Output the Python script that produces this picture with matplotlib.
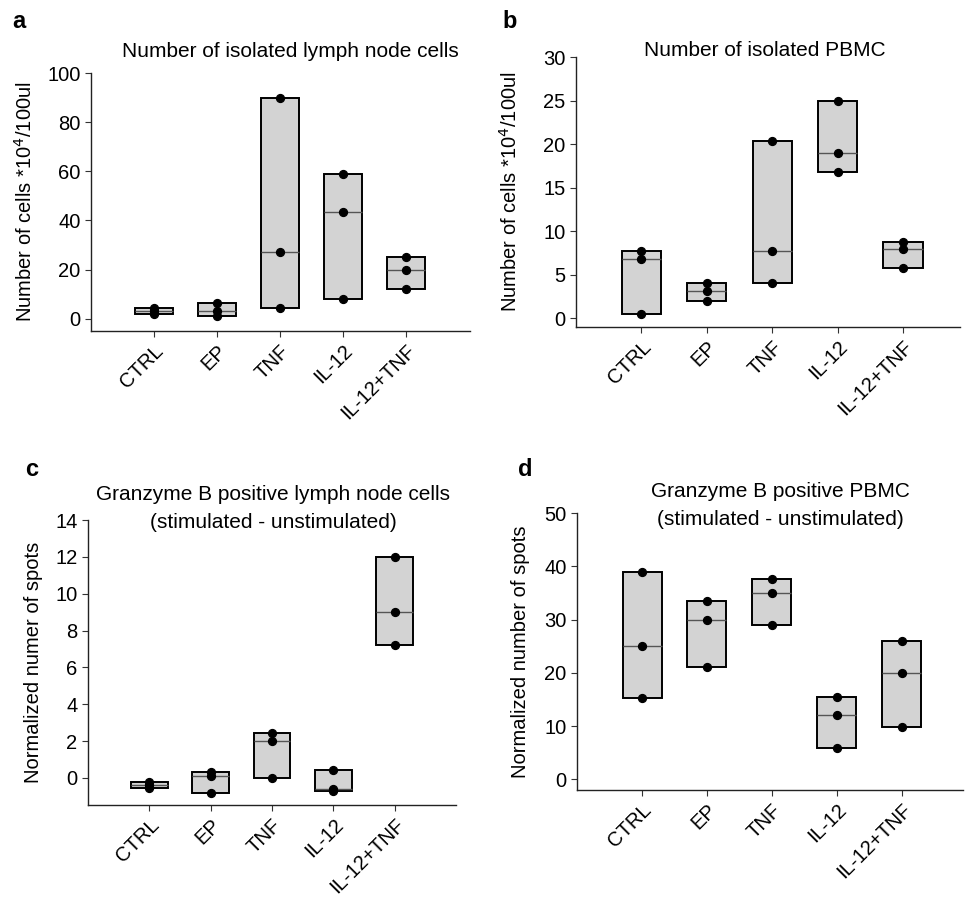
import numpy as np
import matplotlib.pyplot as plt

plt.rcParams['font.family'] = ['Liberation Sans', 'DejaVu Sans']

groups = ["CTRL", "EP", "TNF", "IL-12", "IL-12+TNF"]

# three replicates per group
lymph_cells = [[2.0, 3.0, 4.2], [1.0, 3.2, 6.4], [4.2, 27.0, 90.0],
               [8.0, 43.5, 59.0], [12.0, 20.0, 25.0]]
pbmc_cells = [[0.5, 6.8, 7.7], [2.0, 3.1, 4.1], [4.0, 7.7, 20.3],
              [16.8, 19.0, 25.0], [5.8, 8.0, 8.8]]
lymph_gzb = [[-0.53, -0.4, -0.23], [-0.8, 0.1, 0.35], [0.0, 2.0, 2.42],
             [-0.7, -0.58, 0.42], [7.2, 9.0, 12.0]]
pbmc_gzb = [[15.2, 25.0, 39.0], [21.0, 30.0, 33.5], [29.0, 35.0, 37.7],
            [5.8, 12.0, 15.4], [9.8, 20.0, 26.0]]

panels = [
    dict(data=lymph_cells, letter="a", title="Number of isolated lymph node cells",
         ylabel="Number of cells *10$^4$/100ul", yticks=np.arange(0, 101, 20),
         ylim=(-5, 100), xlim=(0, 6.02),
         pos=[0.0939, 0.6355, 0.3911, 0.2841], tpos=(0.525, 1.085), lx=-0.145,
         letter_xy=(19, 22)),
    dict(data=pbmc_cells, letter="b", title="Number of isolated PBMC",
         ylabel="Number of cells *10$^4$/100ul", yticks=np.arange(0, 31, 5),
         ylim=(-1, 30), xlim=(0, 5.87),
         pos=[0.5944, 0.6399, 0.3963, 0.2973], tpos=(0.492, 1.026), lx=-0.143,
         letter_xy=(510, 22)),
    dict(data=lymph_gzb, letter="c",
         title="Granzyme B positive lymph node cells\n(stimulated - unstimulated)",
         ylabel="Normalized numer of spots", yticks=np.arange(0, 15, 2),
         ylim=(-1.47, 14), xlim=(0, 6.0),
         pos=[0.0908, 0.1134, 0.3798, 0.3139], tpos=(0.503, 1.040), lx=-0.122,
         letter_xy=(32, 470)),
    dict(data=pbmc_gzb, letter="d",
         title="Granzyme B positive PBMC\n(stimulated - unstimulated)",
         ylabel="Normalized number of spots", yticks=np.arange(0, 51, 10),
         ylim=(-2, 50), xlim=(0, 5.94),
         pos=[0.5955, 0.1300, 0.3983, 0.3050], tpos=(0.528, 1.026), lx=-0.122,
         letter_xy=(525, 470)),
]

W, H = 969, 908
fig = plt.figure(figsize=(W / 100, H / 100), dpi=100)

for p in panels:
    ax = fig.add_axes(p["pos"])
    x = np.arange(1, len(groups) + 1)
    vals = [np.array(v) for v in p["data"]]
    lo = np.array([v.min() for v in vals])
    hi = np.array([v.max() for v in vals])
    med = np.array([np.median(v) for v in vals])

    ax.bar(x, hi - lo, bottom=lo, width=0.6, color="#d3d3d3",
           edgecolor="black", linewidth=1.4, zorder=2)
    ax.hlines(med, x - 0.3, x + 0.3, color="#555555", linewidth=1.0, zorder=3)
    for xi, v in zip(x, vals):
        ax.scatter(np.full(len(v), xi), v, s=32, color="black", zorder=4)

    ax.set_xlim(*p["xlim"])
    ax.set_ylim(*p["ylim"])
    ax.set_yticks(p["yticks"])
    ax.set_xticks(x)
    ax.set_xticklabels(groups, rotation=45, ha="right", rotation_mode="anchor")
    ax.tick_params(labelsize=14.5, length=4, width=0.8, color="#333333")
    ax.spines["top"].set_visible(False)
    ax.spines["right"].set_visible(False)
    for s in ["left", "bottom"]:
        ax.spines[s].set_linewidth(1.0)
        ax.spines[s].set_color("#222222")
    ax.set_ylabel(p["ylabel"], fontsize=14.5)
    ax.yaxis.set_label_coords(p["lx"], 0.5)
    ax.text(p["tpos"][0], p["tpos"][1], p["title"], transform=ax.transAxes,
            ha="center", va="center", fontsize=15, linespacing=1.6)
    fig.text(p["letter_xy"][0] / W, 1 - p["letter_xy"][1] / H, p["letter"],
             fontsize=17, fontweight="bold", ha="center", va="center")

fig.savefig("out.png", dpi=100)
